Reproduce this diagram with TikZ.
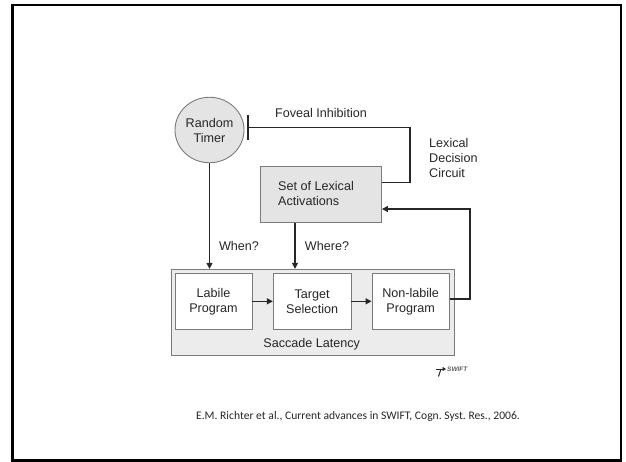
\documentclass[tikz,border=0pt]{standalone}
\usepackage{fontspec}
\setmainfont{Liberation Sans}
\newfontfamily\citefont{Carlito}
\usetikzlibrary{arrows.meta,shapes.geometric}
\frenchspacing

\definecolor{ink}{HTML}{262626}
\definecolor{edge}{HTML}{7A7A7A}
\definecolor{softgray}{HTML}{E4E4E4}
\definecolor{panelgray}{HTML}{ECECEC}

\tikzset{
  lbl/.style={text=ink, font=\fontsize{12.6}{15}\selectfont, inner sep=0pt},
  procbox/.style={draw=edge, line width=0.9pt, fill=white, minimum width=77pt,
    minimum height=56pt, inner sep=0pt, align=center, text=ink,
    font=\fontsize{12.6}{15}\selectfont},
  conn/.style={draw=ink, line width=1.3pt},
  arr/.style={conn, -{Triangle[length=6pt,width=6pt]}},
}

\begin{document}
\begin{tikzpicture}[x=1pt, y=-1pt]
  \useasboundingbox (0,0) rectangle (626,461);

  % slide frame
  \draw[line width=2.4pt, black] (12.5,5) rectangle (621,460.5);

  % timer and lexical activation set
  \node[draw=edge, line width=0.9pt, fill=softgray, ellipse, minimum width=69pt,
        minimum height=65.5pt, inner sep=0pt, align=center, text=ink,
        font=\fontsize{12.6}{15}\selectfont] (rt) at (209.5,130) {Random\\Timer};
  \node[draw=edge, line width=0.9pt, fill=softgray, minimum width=121.5pt,
        minimum height=56.3pt, inner sep=0pt, text=ink] (set) at (320.75,194.15) {};
  \node[lbl, anchor=west, align=left] (settext) at (278,193.8) {Set of Lexical\\Activations};

  % saccade latency panel
  \node[draw=edge, line width=0.9pt, fill=panelgray, minimum width=282.8pt,
        minimum height=85.7pt, inner sep=0pt] (outer) at (312.9,312.15) {};
  \node[procbox] (lab) at (213.5,301.3) {Labile\\Program};
  \node[procbox, minimum width=77.7pt] (tgt) at (312.15,301.3) {Target\\Selection};
  \node[procbox, minimum width=77.3pt] (nl) at (410.65,301.3) {Non-labile\\Program};
  \node[lbl] (sl) at (311.7,344.3) {Saccade Latency};

  % labels
  \node[lbl] (fov) at (321,113) {Foveal Inhibition};
  \node[lbl, anchor=west, align=left] (ldc) at (429,157.5) {Lexical\\Decision\\Circuit};
  \node[lbl] (when) at (239,246) {When?};
  \node[lbl] (where) at (327,246) {Where?};

  % routing points
  \coordinate (inhA) at (410,182.3);
  \coordinate (inhB) at (410,127.3);
  \coordinate (tbar) at (247.3,127.3);
  \coordinate (fbA) at (470,299);
  \coordinate (fbB) at (470,209);
  \coordinate (wx) at (295,0);

  % connectors
  \draw[conn, -{Bar[width=25pt, line width=1.2pt]}] (set.east |- inhA) -- (inhA) -- (inhB) -- (tbar);
  \draw[arr] (rt.south) -- (rt.south |- outer.north);
  \draw[arr] (set.south -| wx) -- (outer.north -| wx);
  \draw[arr] (lab.east) -- (tgt.west);
  \draw[arr] (tgt.east) -- (nl.west);
  \draw[arr] (nl.east |- fbA) -- (fbA) -- (fbB) -- (set.east |- fbB);

  % small logo mark: right arrow with a hooked tail
  \coordinate (lgA) at (435.5,369);
  \coordinate (lgB) at (446,369);
  \coordinate (lgC) at (438.5,376.5);
  \draw[ink, line width=1pt, -{Triangle[length=3.5pt,width=4pt]}] (lgA) -- (lgB);
  \draw[ink, line width=1pt] (441,369) .. controls (440.5,373) .. (lgC);
  \node[text=ink!75, font=\fontsize{6.5}{7}\selectfont\itshape\bfseries, anchor=west,
        inner sep=0pt] (logo) at (447,369.3) {SWIFT};

  % citation
  \node[text=ink, font=\citefont\fontsize{11.6}{13}\selectfont, inner sep=0pt] (cite)
        at (358,416) {E.M. Richter et al., Current advances in SWIFT, Cogn. Syst. Res., 2006.};
\end{tikzpicture}
\end{document}
